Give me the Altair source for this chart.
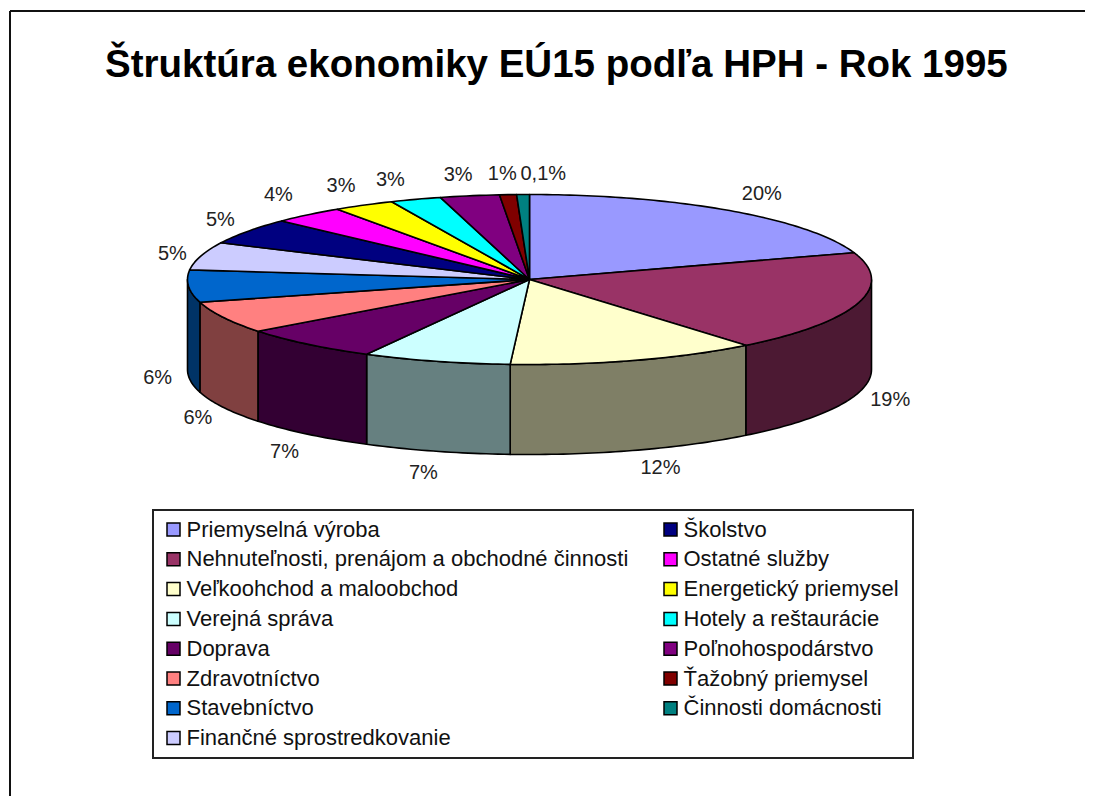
import numpy as np
import pandas as pd
import altair as alt

names = ["Priemyselná výroba", "Nehnuteľnosti, prenájom a obchodné činnosti",
         "Veľkoohchod a maloobchod", "Verejná správa", "Doprava", "Zdravotníctvo",
         "Stavebníctvo", "Finančné sprostredkovanie", "Školstvo", "Ostatné služby",
         "Energetický priemysel", "Hotely a reštaurácie", "Poľnohospodárstvo",
         "Ťažobný priemysel", "Činnosti domácnosti"]
shares = [19.9, 19.2, 11.8, 7.0, 6.7, 6.1, 6.1, 5.3, 5.0, 3.4, 2.9, 2.4, 2.8, 0.8, 0.6]
labels = ["20%", "19%", "12%", "7%", "7%", "6%", "6%", "5%", "5%", "4%", "3%", "3%", "3%", "1%", "0,1%"]
top_colors = ["#9999FF", "#993366", "#FFFFCC", "#CCFFFF", "#660066", "#FF8080", "#0066CC",
              "#CCCCFF", "#000080", "#FF00FF", "#FFFF00", "#00FFFF", "#800080", "#800000", "#008080"]
wall_colors = ["#4C1933", "#7F7F66", "#668080", "#330033", "#804040", "#003366"]
title = "Štruktúra ekonomiky EÚ15 podľa HPH - Rok 1995"

W, H = 1077, 788
CX, CY, RX, RY, DEPTH = 521.5, 271.5, 342, 85, 90
LABEL_NUDGE_X = [7, -9, 12, -1, 5, 13, 12, 13, 8, -2, -2, -11, -4, -3, 21]
LABEL_NUDGE_Y = [0, 1, -1, 2, 3, 2, 0, 3, 0, -4, -2, 0, -1, -1, -1]

edges = np.cumsum([0.0] + shares) / 100 * 2 * np.pi


def ex(t):
    return CX + RX * np.sin(t)


def ey(t):
    return CY - RY * np.cos(t)


top_rows, wall_groups, label_rows = [], [], []
for k, name in enumerate(names):
    a, b = edges[k], edges[k + 1]
    ts = np.linspace(a, b, max(3, int((b - a) * 60)))
    xs = np.r_[CX, ex(ts), CX]
    ys = np.r_[CY, ey(ts), CY]
    for i, (x, y) in enumerate(zip(xs, ys)):
        top_rows.append({"slice": name, "i": i, "x": x, "y": y})
    mid = (a + b) / 2
    label_rows.append({
        "label": labels[k],
        "x": CX + 385 * np.sin(mid) + LABEL_NUDGE_X[k],
        "y": CY - 105 * np.cos(mid) + (DEPTH if np.cos(mid) < 0 else 0) + LABEL_NUDGE_Y[k],
    })

# visible side walls: the front half of the cylinder, slices 2..7
for j, k in enumerate(range(1, 7)):
    a = max(edges[k], np.pi / 2)
    b = min(edges[k + 1], 1.5 * np.pi)
    ts = np.linspace(a, b, max(3, int((b - a) * 60)))
    xs = np.r_[ex(ts), ex(ts)[::-1], ex(ts)[0]]
    ys = np.r_[ey(ts), ey(ts)[::-1] + DEPTH, ey(ts)[0]]
    wall_groups.append((wall_colors[j], pd.DataFrame({"i": range(len(xs)), "x": xs, "y": ys})))

x_enc = alt.X("x:Q", scale=alt.Scale(domain=[0, W]), axis=None)
y_enc = alt.Y("y:Q", scale=alt.Scale(domain=[H, 0]), axis=None)

walls = [
    alt.Chart(d).mark_line(fill=c, stroke="black", strokeWidth=1.6, strokeJoin="round", clip=False)
    .encode(x=x_enc, y=y_enc, order="i:Q")
    for c, d in wall_groups
]

legend = alt.Legend(
    title=None, orient="none", legendX=154.5, legendY=510.5, columns=2, symbolType="square",
    symbolSize=169, symbolStrokeColor="black", symbolStrokeWidth=1.5, symbolOpacity=1,
    labelFont="Liberation Sans", labelFontSize=22, labelColor="#111111", labelLimit=600,
    labelOffset=2, rowPadding=7.8, columnPadding=31, padding=0,
)
tops = (
    alt.Chart(pd.DataFrame(top_rows))
    .mark_line(stroke="black", strokeWidth=1.6, strokeJoin="round")
    .encode(
        x=x_enc, y=y_enc, order="i:Q",
        fill=alt.Fill("slice:N", scale=alt.Scale(domain=names, range=top_colors),
                      sort=names, legend=legend),
    )
)
pct = (
    alt.Chart(pd.DataFrame(label_rows))
    .mark_text(font="Liberation Sans", fontSize=20, color="#222222", align="center", baseline="middle")
    .encode(x=x_enc, y=y_enc, text="label:N")
)
frame = pd.DataFrame({"x": [2], "x2": [W], "y": [3], "y2": [H]})
border_left = alt.Chart(frame).mark_rule(color="#111111", strokeWidth=2).encode(
    x=x_enc, y=y_enc, y2="y2:Q")
border_top = alt.Chart(frame).mark_rule(color="#111111", strokeWidth=2).encode(
    x=x_enc, x2="x2:Q", y=y_enc)
legend_box = pd.DataFrame({"x": [145], "x2": [905], "y": [502], "y2": [750]})
box = alt.Chart(legend_box).mark_rect(fill="white", stroke="#222222", strokeWidth=2).encode(
    x=x_enc, x2="x2:Q", y=y_enc, y2="y2:Q")

chart = alt.layer(border_left, border_top, box, *walls, tops, pct).properties(
    width=W, height=H, padding=0, autosize=alt.AutoSizeParams(type="none"),
    title=alt.TitleParams(title, anchor="start", dx=97, dy=77, font="Liberation Sans",
                          fontSize=38.5, fontWeight="bold", color="black", offset=0),
).configure_view(stroke=None)

chart.save("out.html", embed_options={"renderer": "svg", "actions": False})
